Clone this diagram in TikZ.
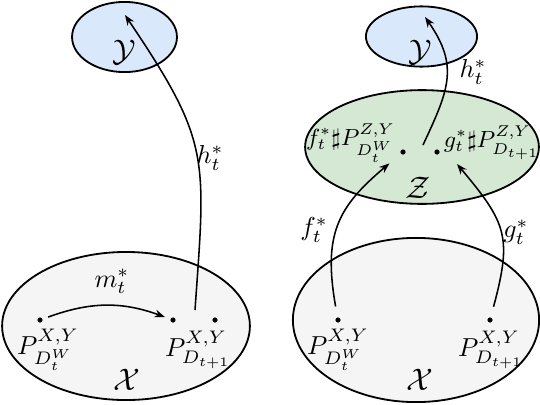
\documentclass[tikz,border=0pt]{standalone}
\usetikzlibrary{arrows.meta,positioning}
\definecolor{yblue}{HTML}{DAE8FC}
\definecolor{zgreen}{HTML}{D5E8D4}
\definecolor{xgray}{HTML}{F5F5F5}
\tikzset{
setY/.style={draw,line width=0.7pt,fill=yblue},
setZ/.style={draw,line width=0.7pt,fill=zgreen},
setX/.style={draw,line width=0.7pt,fill=xgray},
setname/.style={font=\large},
pushlabel/.style={inner sep=0.5pt,font=\fontsize{9.2}{11}\selectfont},
point/.style={circle,fill=black,inner sep=0pt,minimum size=2pt,outer sep=2.3pt},
arr/.style={->,>={Stealth[length=4pt,width=3pt]},semithick},
}

\begin{document}
\begin{tikzpicture}[x=0.385pt,y=0.385pt]
        \useasboundingbox (0,0) rectangle (540,404);
        % left: X --m--> X --h--> Y
        \draw[setY] (124.5,367) ellipse[x radius=20.2pt, y radius=13.5pt];
        \draw[setX] (126,78) ellipse[x radius=47.7pt, y radius=28.5pt];
        \node[setname] (yleft) at (124,352) {$\mathcal{Y}$};
        \node[setname] (xleft) at (127,24) {$\mathcal{X}$};
        \node[point] (l1) at (40,84) {};
        \node[point] (l2) at (173,84) {};
        \node[point] (l3) at (215,84) {};
        \node (l1lab) at (48,54) {$P^{X,Y}_{D_t^W}$};
        \node (l2lab) at (198,54) {$P^{X,Y}_{D_{t+1}}$};
        \coordinate (hlstart) at (195,94);
        \coordinate (hltip) at (125,389);
        \draw[arr] (l1) to[bend left=20] node[pos=0.55,above=1pt] (mlab) {$m_t^*$} (l2);
        \draw[arr] (hlstart) to[out=86,in=-56,looseness=1.3] (hltip);
        \node (hllab) at (210,246) {$h_t^*$};

        % right: X --f,g--> Z --h--> Y
        \draw[setY] (421.5,367.5) ellipse[x radius=21.4pt, y radius=11.6pt];
        \draw[setZ] (422,257) ellipse[x radius=45pt, y radius=21.9pt];
        \draw[setX] (416,84) ellipse[x radius=47.4pt, y radius=31.6pt];
        \node[setname] (yright) at (420,352) {$\mathcal{Y}$};
        \node[setname] (zname) at (418,216) {$\mathcal{Z}$};
        \node[setname] (xright) at (420,24) {$\mathcal{X}$};
        \node[point] (r1) at (338,84) {};
        \node[point] (r2) at (490,84) {};
        \node (r1lab) at (338,54) {$P^{X,Y}_{D_t^W}$};
        \node (r2lab) at (491,54) {$P^{X,Y}_{D_{t+1}}$};
        \node[point] (z1) at (403,252) {};
        \node[point] (z2) at (437,252) {};
        \node[pushlabel,anchor=east] (z1lab) at (397,261) {$f_t^*\sharp P^{Z,Y}_{D_t^W}$};
        \node[pushlabel,anchor=west] (z2lab) at (442,261) {$g_t^*\sharp P^{Z,Y}_{D_{t+1}}$};
        \coordinate (gtip) at (457,240);
        \coordinate (hrstart) at (423,259);
        \coordinate (hrtip) at (425,387);
        \draw[arr,shorten <=2pt,shorten >=3.5pt] (r1) to[out=100,in=-140,looseness=1.2] (z1);
        \draw[arr,shorten <=2pt] (r2) to[out=75,in=-50,looseness=1.3] (gtip);
        \draw[arr] (hrstart) to[out=65,in=-55,looseness=1.2] (hrtip);
        \node (flab) at (314,174) {$f_t^*$};
        \node (glab) at (516,172) {$g_t^*$};
        \node (hrlab) at (473,332) {$h_t^*$};
\end{tikzpicture}
\end{document}
